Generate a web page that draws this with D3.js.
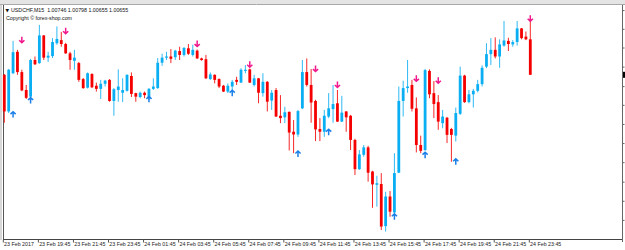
<!DOCTYPE html>
<html>
<head>
<meta charset="utf-8">
<script src="https://cdn.jsdelivr.net/npm/d3@7"></script>
<style>
  body { margin: 0; background: #fff; }
  svg { display: block; }
</style>
</head>
<body>
<svg id="ctner"></svg>
<script>
// USDCHF M15, 121 bars
const symbol = "USDCHF,M15";
const copyright = "Copyright \u00a9 forex-shop.com";

const opens = [1.00655,1.00561,1.00659,1.00714,1.00662,1.00616,1.00599,1.00693,1.00685,1.00756,1.00699,1.00703,1.00736,1.00744,1.00734,1.00710,1.00691,1.00685,1.00644,1.00622,1.00657,1.00627,1.00619,1.00632,1.00642,1.00588,1.00616,1.00609,1.00614,1.00652,1.00608,1.00598,1.00609,1.00598,1.00619,1.00621,1.00686,1.00699,1.00702,1.00700,1.00716,1.00706,1.00723,1.00706,1.00717,1.00697,1.00695,1.00644,1.00655,1.00644,1.00627,1.00612,1.00625,1.00642,1.00635,1.00665,1.00669,1.00629,1.00646,1.00608,1.00637,1.00589,1.00616,1.00550,1.00546,1.00560,1.00509,1.00502,1.00569,1.00662,1.00629,1.00588,1.00516,1.00509,1.00548,1.00567,1.00582,1.00535,1.00561,1.00550,1.00488,1.00413,1.00450,1.00469,1.00407,1.00373,1.00375,1.00267,1.00343,1.00302,1.00404,1.00588,1.00621,1.00629,1.00569,1.00475,1.00462,1.00665,1.00608,1.00585,1.00531,1.00545,1.00516,1.00499,1.00555,1.00653,1.00585,1.00605,1.00614,1.00631,1.00676,1.00708,1.00719,1.00702,1.00730,1.00742,1.00733,1.00739,1.00774,1.00753,1.00746];
const highs = [1.00657,1.00670,1.00742,1.00719,1.00668,1.00629,1.00696,1.00702,1.00783,1.00757,1.00714,1.00749,1.00779,1.00765,1.00737,1.00714,1.00719,1.00688,1.00647,1.00661,1.00659,1.00635,1.00642,1.00642,1.00644,1.00621,1.00669,1.00646,1.00656,1.00661,1.00609,1.00612,1.00612,1.00621,1.00646,1.00698,1.00709,1.00714,1.00721,1.00719,1.00727,1.00726,1.00734,1.00732,1.00720,1.00699,1.00706,1.00661,1.00656,1.00646,1.00629,1.00633,1.00642,1.00650,1.00672,1.00680,1.00671,1.00655,1.00647,1.00659,1.00639,1.00616,1.00621,1.00603,1.00573,1.00561,1.00539,1.00565,1.00693,1.00697,1.00670,1.00591,1.00544,1.00565,1.00608,1.00629,1.00616,1.00601,1.00562,1.00552,1.00491,1.00462,1.00475,1.00473,1.00409,1.00396,1.00403,1.00355,1.00357,1.00454,1.00625,1.00640,1.00693,1.00642,1.00597,1.00499,1.00670,1.00669,1.00639,1.00603,1.00565,1.00547,1.00519,1.00571,1.00676,1.00655,1.00616,1.00619,1.00642,1.00679,1.00736,1.00749,1.00751,1.00746,1.00793,1.00750,1.00744,1.00793,1.00775,1.00766,1.00798];
const lows = [1.00532,1.00557,1.00657,1.00655,1.00613,1.00593,1.00598,1.00680,1.00683,1.00693,1.00688,1.00698,1.00732,1.00727,1.00709,1.00668,1.00668,1.00637,1.00619,1.00620,1.00621,1.00612,1.00593,1.00625,1.00586,1.00550,1.00586,1.00585,1.00612,1.00598,1.00586,1.00595,1.00595,1.00591,1.00616,1.00619,1.00678,1.00693,1.00685,1.00693,1.00693,1.00702,1.00706,1.00702,1.00696,1.00691,1.00644,1.00642,1.00633,1.00621,1.00611,1.00608,1.00616,1.00629,1.00634,1.00659,1.00634,1.00625,1.00582,1.00599,1.00561,1.00565,1.00547,1.00531,1.00531,1.00461,1.00454,1.00496,1.00567,1.00625,1.00532,1.00485,1.00485,1.00496,1.00544,1.00532,1.00534,1.00534,1.00509,1.00462,1.00398,1.00411,1.00445,1.00381,1.00314,1.00317,1.00257,1.00253,1.00291,1.00300,1.00403,1.00548,1.00609,1.00561,1.00456,1.00454,1.00460,1.00595,1.00544,1.00514,1.00518,1.00480,1.00432,1.00484,1.00552,1.00583,1.00582,1.00571,1.00610,1.00625,1.00672,1.00680,1.00697,1.00673,1.00727,1.00716,1.00727,1.00730,1.00746,1.00744,1.00655];
const closes = [1.00561,1.00668,1.00713,1.00662,1.00615,1.00596,1.00693,1.00682,1.00756,1.00699,1.00704,1.00739,1.00747,1.00734,1.00710,1.00693,1.00699,1.00642,1.00621,1.00659,1.00623,1.00619,1.00632,1.00640,1.00588,1.00618,1.00625,1.00616,1.00655,1.00606,1.00599,1.00609,1.00603,1.00619,1.00625,1.00686,1.00699,1.00702,1.00696,1.00717,1.00706,1.00724,1.00709,1.00719,1.00697,1.00693,1.00646,1.00656,1.00642,1.00625,1.00612,1.00627,1.00637,1.00637,1.00668,1.00668,1.00635,1.00646,1.00609,1.00637,1.00586,1.00609,1.00548,1.00544,1.00559,1.00507,1.00502,1.00562,1.00662,1.00629,1.00584,1.00515,1.00509,1.00550,1.00569,1.00580,1.00535,1.00558,1.00546,1.00488,1.00413,1.00451,1.00469,1.00404,1.00374,1.00377,1.00266,1.00343,1.00304,1.00403,1.00588,1.00621,1.00625,1.00568,1.00475,1.00460,1.00667,1.00605,1.00580,1.00535,1.00548,1.00501,1.00501,1.00557,1.00653,1.00585,1.00605,1.00614,1.00631,1.00673,1.00708,1.00719,1.00702,1.00733,1.00743,1.00734,1.00739,1.00774,1.00749,1.00746,1.00655];

// signal arrows: bar index and price of the arrow tip
const upArrowBars = [2, 6, 33, 52, 67, 74, 89, 96, 103];
const upArrowPrices = [1.00562, 1.00598, 1.00601, 1.00617, 1.00461, 1.00517, 1.00300, 1.00458, 1.00441];
const downArrowBars = [4, 14, 44, 56, 71, 76, 94, 99, 120];
const downArrowPrices = [1.00736, 1.00759, 1.00726, 1.00673, 1.00662, 1.00621, 1.00637, 1.00632, 1.00791];

// time axis labels, every 8 bars
const timeTickBars = [0, 8, 16, 24, 32, 40, 48, 56, 64, 72, 80, 88, 96, 104, 112, 120];
const timeLabels = ["23 Feb 2017", "23 Feb 19:45", "23 Feb 21:45", "23 Feb 23:45", "24 Feb 01:45", "24 Feb 03:45", "24 Feb 05:45", "24 Feb 07:45", "24 Feb 09:45", "24 Feb 11:45", "24 Feb 13:45", "24 Feb 15:45", "24 Feb 17:45", "24 Feb 19:45", "24 Feb 21:45", "24 Feb 23:45"];

// price scale ticks (labels are cut off in the screenshot)
const priceTicks = [1.00821, 1.00773, 1.00725, 1.00676, 1.00626, 1.00578, 1.00529, 1.00480, 1.00431, 1.00381, 1.00332, 1.00283];

main();

function main() {
  const width = 625;
  const height = 250;
  const svg = d3.select("#ctner").attr("width", width).attr("height", height);

  const bars = opens.map((o, i) => ({ i, o, h: highs[i], l: lows[i], c: closes[i] }));

  /* scales */
  const x = d3.scaleLinear().domain([0, bars.length - 1]).range([4.3, 530.3]);
  const y = d3.scaleLinear().domain([1.00234, 1.00834]).range([239, 5]);

  renderFrame(svg, width, height, x, y, bars);
  renderCandles(svg, x, y, bars);
  renderArrows(svg, x, y);
  renderHeader(svg, bars);
}

function renderFrame(svg, width, height, x, y, bars) {
  svg.append("rect").attr("width", width).attr("height", height).attr("fill", "#fff");
  // top strip
  svg.append("rect").attr("width", width).attr("height", 4).attr("fill", "#e4e4e4");
  svg.append("line").attr("x1", 0).attr("x2", width).attr("y1", 4.5).attr("y2", 4.5)
    .attr("stroke", "#a8a8a8");
  // left borders
  svg.append("line").attr("x1", 1).attr("x2", 1).attr("y1", 5).attr("y2", 240)
    .attr("stroke", "#b0b0b0");
  svg.append("line").attr("x1", 3.5).attr("x2", 3.5).attr("y1", 5).attr("y2", 240)
    .attr("stroke", "#555");
  // bottom and right borders
  svg.append("line").attr("x1", 3).attr("x2", 623).attr("y1", 239.5).attr("y2", 239.5)
    .attr("stroke", "#444");
  svg.append("line").attr("x1", 622.5).attr("x2", 622.5).attr("y1", 5).attr("y2", 242)
    .attr("stroke", "#666");

  /* price axis ticks on the right */
  svg.append("g")
    .attr("transform", "translate(622.5,0)")
    .call(d3.axisRight(y).tickValues(priceTicks).tickSize(2).tickFormat(""))
    .call((g) => g.select(".domain").remove())
    .call((g) => g.selectAll(".tick line").attr("stroke", "#666"));

  // current price marker
  const last = bars[bars.length - 1];
  svg.append("rect")
    .attr("x", 623).attr("width", 2)
    .attr("y", y(last.c) - 3).attr("height", 6)
    .attr("fill", "#000");

  /* time axis */
  svg.append("g")
    .attr("transform", "translate(-1.5,239.5)")
    .call(d3.axisBottom(x).tickValues(timeTickBars).tickSize(3)
      .tickFormat((d, i) => timeLabels[i]))
    .call((g) => g.select(".domain").remove())
    .call((g) => g.selectAll(".tick line").attr("stroke", "#555"))
    .call((g) => g.selectAll(".tick text")
      .attr("text-anchor", "start")
      .attr("x", 0.8)
      .attr("y", 2.6)
      .attr("fill", "#222")
      .style("font", "5.3px 'Liberation Sans', Arial, sans-serif"));
}

function renderCandles(svg, x, y, bars) {
  const up = "#0aaef2";
  const down = "#f40000";
  const color = (d) => (d.c >= d.o ? up : down);

  const g = svg.append("g").attr("class", "candles");
  const candle = g.selectAll("g").data(bars).join("g");

  candle.append("line")
    .attr("x1", (d) => x(d.i))
    .attr("x2", (d) => x(d.i))
    .attr("y1", (d) => y(d.h))
    .attr("y2", (d) => y(d.l))
    .attr("stroke", color)
    .attr("stroke-opacity", 0.85)
    .attr("stroke-width", 1);

  candle.append("rect")
    .attr("x", (d) => x(d.i) - 1.4)
    .attr("width", 2.8)
    .attr("y", (d) => y(Math.max(d.o, d.c)))
    .attr("height", (d) => Math.max(1, Math.abs(y(d.o) - y(d.c))))
    .attr("fill", color);
}

function renderArrows(svg, x, y) {
  const g = svg.append("g").attr("class", "arrows")
    .attr("fill", "none")
    .attr("stroke-width", 1.5)
    .attr("stroke-linecap", "butt");

  g.selectAll(".up")
    .data(upArrowBars)
    .join("path")
    .attr("class", "up")
    .attr("stroke", "#1a7fe8")
    .attr("transform", (d, i) => `translate(${x(d)},${y(upArrowPrices[i])})`)
    .attr("d", "M0,0.6V6.5M-2.6,3L0,0.6L2.6,3");

  g.selectAll(".down")
    .data(downArrowBars)
    .join("path")
    .attr("class", "down")
    .attr("stroke", "#f0188c")
    .attr("transform", (d, i) => `translate(${x(d)},${y(downArrowPrices[i])})`)
    .attr("d", "M0,-0.6V-6.5M-2.6,-3L0,-0.6L2.6,-3");
}

function renderHeader(svg, bars) {
  const last = bars[bars.length - 1];
  const values = [last.o, last.h, last.l, last.c].map((v) => v.toFixed(5)).join(" ");

  svg.append("text")
    .attr("x", 5.5).attr("y", 11.8)
    .attr("fill", "#111")
    .style("font", "4.6px 'DejaVu Sans', sans-serif")
    .text("\u25bc");
  svg.append("text")
    .attr("x", 11).attr("y", 12)
    .attr("fill", "#111")
    .style("font", "5.3px 'Liberation Sans', Arial, sans-serif")
    .style("white-space", "pre")
    .text(`${symbol}  ${values}`);
  svg.append("text")
    .attr("x", 6).attr("y", 20)
    .attr("fill", "#111")
    .style("font", "5.3px 'Liberation Sans', Arial, sans-serif")
    .text(copyright);
}
</script>
</body>
</html>
